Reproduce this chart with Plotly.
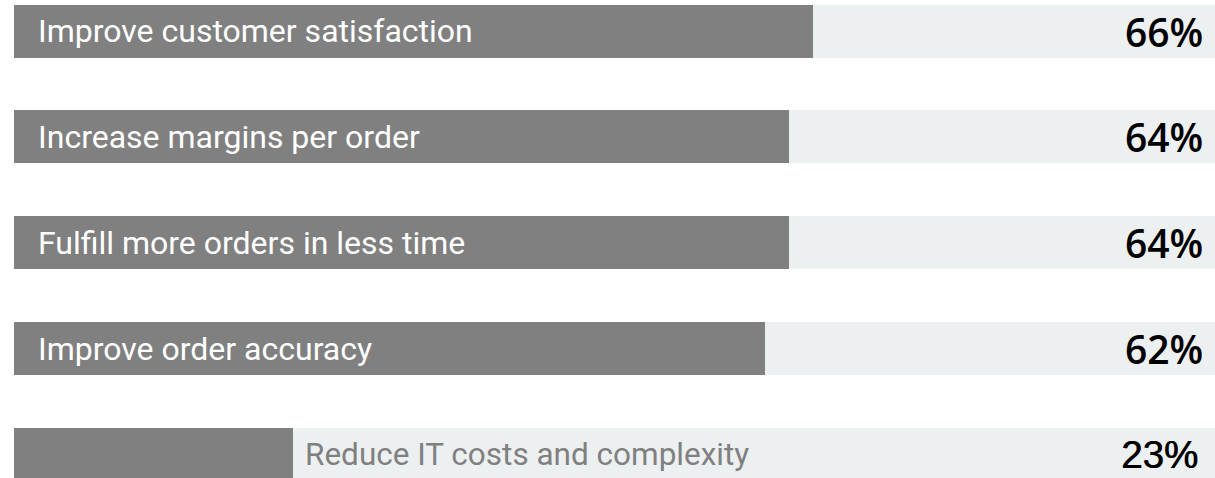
import plotly.graph_objects as go

categories = [
    "Improve customer satisfaction",
    "Increase margins per order",
    "Fulfill more orders in less time",
    "Improve order accuracy",
    "Reduce IT costs and complexity",
]
values = [66, 64, 64, 62, 23]
value_labels = ["66%", "64%", "64%", "62%", "23%"]
track_total = [100, 100, 100, 100, 100]

BAR = "#808080"
TRACK = "#edf0f1"

fig = go.Figure()
fig.add_trace(go.Bar(
    x=track_total, y=categories, orientation="h", width=0.5,
    marker=dict(color=TRACK, line=dict(width=0)), hoverinfo="skip", showlegend=False,
))
fig.add_trace(go.Bar(
    x=values, y=categories, orientation="h", width=0.5,
    marker=dict(color=BAR, line=dict(width=0)), hoverinfo="skip", showlegend=False,
))

annotations = []
for cat, v, lab in zip(categories, values, value_labels):
    inside = v > 40
    annotations.append(dict(
        x=0 if inside else v, y=cat, xref="x", yref="y",
        text=cat, showarrow=False, xanchor="left", yanchor="middle",
        xshift=22 if inside else 10,
        font=dict(family="Roboto", size=32 if inside else 31.5,
                  color="#ffffff" if inside else "#808080"),
    ))
    if inside:
        pfont = dict(family="Open Sans", size=39, color="#000000", weight=600)
        pshift = -10
    else:
        pfont = dict(family="Liberation Sans, Arial", size=38.5, color="#000000",
                     shadow="0.7px 0px 0px #000000")
        pshift = -15
    annotations.append(dict(
        x=1, y=cat, xref="paper", yref="y",
        text=lab, showarrow=False, xanchor="right", yanchor="middle",
        xshift=pshift, font=pfont,
    ))

fig.update_layout(
    width=1215, height=478,
    margin=dict(l=14, r=0, t=0, b=0),
    paper_bgcolor="#ffffff", plot_bgcolor="#ffffff",
    barmode="overlay",
    bargap=0,
    xaxis=dict(range=[0, 99.17], visible=False, fixedrange=True),
    yaxis=dict(type="category", range=[4.221, -0.293], visible=False, fixedrange=True),
    annotations=annotations,
)

fig.write_html(
    "out.html",
    config={"displayModeBar": False},
    post_script="document.body.style.margin='0';document.body.style.overflow='hidden';",
)
